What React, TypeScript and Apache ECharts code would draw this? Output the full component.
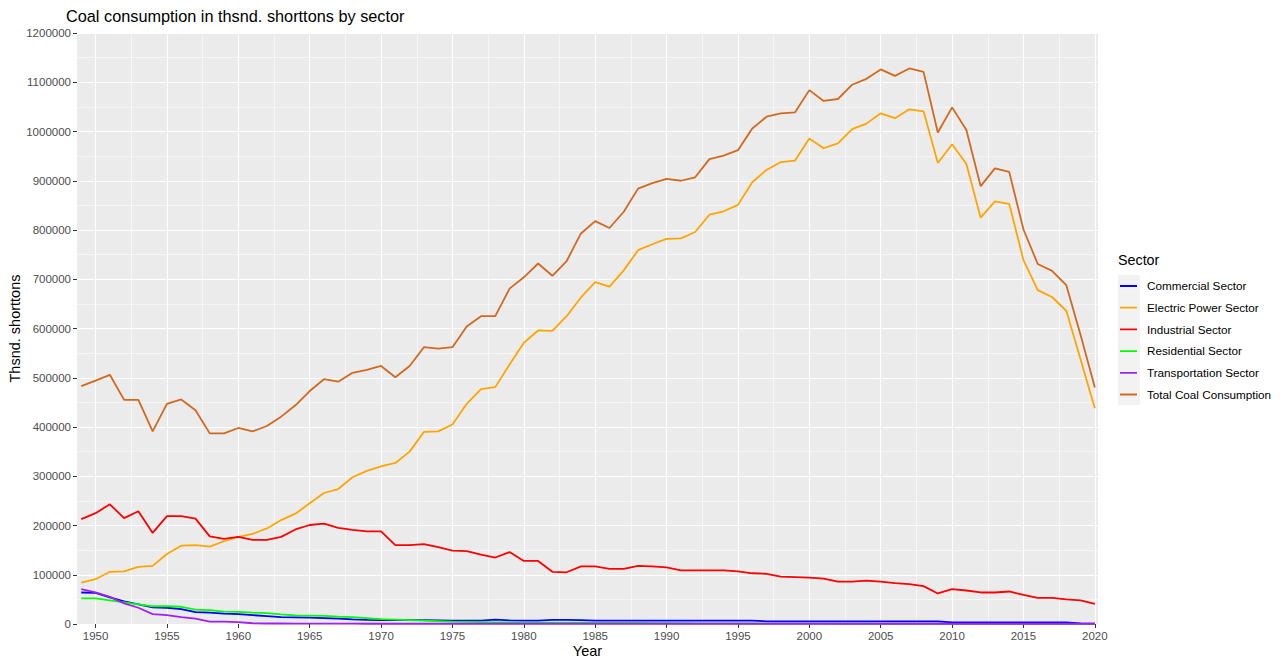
import React, { useEffect, useRef } from "react";
import * as echarts from "echarts";

const years = [
  1949, 1950, 1951, 1952, 1953, 1954, 1955, 1956, 1957, 1958, 1959,
  1960, 1961, 1962, 1963, 1964, 1965, 1966, 1967, 1968, 1969,
  1970, 1971, 1972, 1973, 1974, 1975, 1976, 1977, 1978, 1979,
  1980, 1981, 1982, 1983, 1984, 1985, 1986, 1987, 1988, 1989,
  1990, 1991, 1992, 1993, 1994, 1995, 1996, 1997, 1998, 1999,
  2000, 2001, 2002, 2003, 2004, 2005, 2006, 2007, 2008, 2009,
  2010, 2011, 2012, 2013, 2014, 2015, 2016, 2017, 2018, 2019,
  2020,
];

const commercial = [
  64000, 63000, 54000, 46000, 40000, 34000, 33000, 30000, 24000, 23000, 21000,
  20000, 18000, 16000, 14000, 13500, 13000, 12000, 11000, 9500, 8500,
  8000, 8000, 8000, 8000, 7500, 7000, 7000, 7000, 9000, 7500,
  7000, 7000, 8500, 8500, 8000, 7000, 7000, 7000, 7000, 7000,
  7000, 7000, 7000, 7000, 7000, 7000, 7000, 5500, 5500, 5500,
  5500, 5500, 5500, 5500, 5500, 5500, 5500, 5500, 5500, 5500,
  3500, 3500, 3000, 3000, 3000, 3000, 3000, 3000, 3000, 1000,
  800,
];

const electric = [
  84000, 91000, 106000, 107000, 116000, 118000, 142000, 159000, 160000, 157000, 168000,
  177000, 183000, 194000, 211000, 224000, 245000, 266000, 274000, 298000, 311000,
  320000, 327000, 350000, 390000, 391000, 405000, 447000, 477000, 481000, 527000,
  571000, 596000, 595000, 625000, 663000, 694000, 685000, 718000, 759000, 771000,
  782000, 783000, 796000, 831000, 838000, 851000, 897000, 922000, 938000, 941000,
  986000, 966000, 976000, 1005000, 1016000, 1037000, 1027000, 1045000, 1041000, 936000,
  974000, 934000, 825000, 858000, 853000, 739000, 678000, 664000, 636000, 537000,
  438000,
];

const industrial = [
  213000, 225000, 243000, 215000, 229000, 185000, 219000, 219000, 214000, 178000, 173000,
  177000, 171000, 171000, 177000, 192000, 201000, 204000, 195000, 191000, 188000,
  188000, 160000, 160000, 162000, 156000, 149000, 148000, 141000, 135000, 146000,
  128000, 128000, 106000, 105000, 117000, 117000, 112000, 112000, 118000, 117000,
  115000, 109000, 109000, 109000, 109000, 107000, 103000, 102000, 96000, 95000,
  94000, 92000, 86000, 86000, 88000, 86000, 83000, 81000, 77000, 62000,
  71000, 68000, 64000, 64000, 66000, 59000, 53000, 53000, 50000, 48000,
  41000,
];

const residential = [
  52000, 52000, 48000, 44000, 40000, 36000, 36000, 35000, 29000, 28000, 25000,
  24500, 23000, 22000, 19500, 17500, 17000, 16500, 15000, 14000, 12000,
  10000, 9000, 8000, 7000, 6000, 5000, 4500, 4000, 3500, 3000,
  2500, 2500, 2500, 2500, 2500, 2000, 2000, 2000, 2000, 1800,
  1500, 1500, 1400, 1300, 1200, 1000, 1000, 900, 700, 700,
  600, 600, 500, 500, 500, 400, 400, 400, 300, 200,
  200, 200, 200, 200, 200, 200, 200, 200, 200, 200,
  200,
];

const transportation = [
  71000, 64000, 55000, 42000, 33000, 20000, 18000, 14000, 11000, 5000, 5000,
  4000, 1500, 1000, 1000, 900, 800, 800, 700, 600, 500,
  500, 500, 500, 500, 500, 500, 500, 500, 500, 500,
  500, 500, 500, 500, 500, 500, 500, 500, 500, 500,
  500, 500, 500, 500, 500, 500, 500, 500, 500, 500,
  500, 500, 500, 500, 500, 500, 500, 500, 500, 500,
  500, 500, 500, 500, 500, 500, 500, 500, 500, 500,
  500,
];

const total = [
  483000, 494000, 506000, 455000, 455000, 391000, 447000, 456000, 434000, 387000, 387000,
  398000, 391000, 402000, 421000, 444000, 473000, 497000, 492000, 510000, 516000,
  524000, 501000, 524000, 562000, 559000, 562000, 604000, 625000, 625000, 681000,
  704000, 732000, 707000, 737000, 793000, 818000, 804000, 837000, 884000, 895000,
  904000, 900000, 907000, 944000, 951000, 962000, 1006000, 1030000, 1037000, 1039000,
  1084000, 1062000, 1066000, 1095000, 1107000, 1126000, 1113000, 1128000, 1121000, 998000,
  1049000, 1003000, 889000, 925000, 918000, 801000, 731000, 717000, 688000, 587000,
  480000,
];

const sectorNames = [
  "Commercial Sector",
  "Electric Power Sector",
  "Industrial Sector",
  "Residential Sector",
  "Transportation Sector",
  "Total Coal Consumption",
];
const sectorColors = ["#0000FF", "#FFA500", "#FF0000", "#00FF00", "#A020F0", "#D2691E"];
const sectorValues = [commercial, electric, industrial, residential, transportation, total];

const xMajorTicks = [1950, 1955, 1960, 1965, 1970, 1975, 1980, 1985, 1990, 1995, 2000, 2005, 2010, 2015, 2020];
const xMinorTicks = xMajorTicks.slice(0, -1).map((v, i) => (v + xMajorTicks[i + 1]) / 2);

const FONT = "'Liberation Sans', Arial, sans-serif";
const LEGEND_ICON =
  "path://M0,0h0.01v0.01h-0.01z M0,10.1h17v1.8h-17z M21.99,21.69h0.01v0.01h-0.01z";

export default function App() {
  const ref = useRef<HTMLDivElement>(null);

  useEffect(() => {
    if (!ref.current) return;
    const chart = echarts.init(ref.current, undefined, { renderer: "svg" });
    const series = sectorNames.map((name, i) => ({
      name,
      type: "line",
      xAxisIndex: 0,
      yAxisIndex: 0,
      showSymbol: false,
      symbol: "none",
      data: years.map((y, j) => [y, sectorValues[i][j]]),
      lineStyle: { color: sectorColors[i], width: 1.8 },
      itemStyle: { color: sectorColors[i] },
      z: 3 + i,
    }));

    chart.setOption({
      animation: false,
      backgroundColor: "#FFFFFF",
      textStyle: { fontFamily: FONT },
      title: [
        {
          text: "Coal consumption in thsnd. shorttons by sector",
          left: 66,
          top: 8,
          padding: 0,
          textStyle: { fontSize: 16.3, fontWeight: "normal", color: "#000000", fontFamily: FONT },
        },
        {
          text: "Sector",
          left: 1118,
          top: 253,
          padding: 0,
          textStyle: { fontSize: 14.3, fontWeight: "normal", color: "#000000", fontFamily: FONT },
        },
      ],
      graphic: [
        {
          type: "rect",
          left: 1118,
          top: 275,
          shape: { width: 22, height: 130 },
          style: { fill: "#F2F2F2" },
          z: 0,
        },
      ],
      legend: {
        orient: "vertical",
        left: 1120,
        top: 275,
        padding: 0,
        itemWidth: 22,
        itemHeight: 21.7,
        itemGap: 0,
        icon: LEGEND_ICON,
        data: sectorNames,
        textStyle: { fontSize: 11.7, color: "#000000", fontFamily: FONT },
        selectedMode: false,
      },
      grid: {
        left: 77,
        right: 186,
        top: 33,
        bottom: 35,
        show: true,
        backgroundColor: "#EBEBEB",
        borderWidth: 0,
        containLabel: false,
        outerBoundsMode: "none",
      },
      xAxis: [
        {
          type: "value",
          min: 1948.7,
          max: 2020.22,
          position: "bottom",
          name: "Year",
          nameLocation: "middle",
          nameGap: 19,
          nameMoveOverlap: false,
          nameTextStyle: { fontSize: 14.5, color: "#000000", fontFamily: FONT },
          axisLine: { show: false },
          axisTick: {
            show: true,
            length: 4,
            customValues: xMajorTicks,
            lineStyle: { color: "#333333", width: 1 },
          },
          axisLabel: {
            show: true,
            customValues: xMajorTicks,
            margin: 6,
            fontSize: 11.5,
            color: "#4D4D4D",
            fontFamily: FONT,
            formatter: (v: number) => String(v),
          },
          splitLine: { show: true, lineStyle: { color: "#FFFFFF", width: 1.1 } },
        },
        {
          type: "value",
          min: 1948.7,
          max: 2020.22,
          position: "bottom",
          axisLine: { show: false },
          axisTick: { show: false, customValues: xMinorTicks },
          axisLabel: { show: false, customValues: xMinorTicks },
          splitLine: { show: true, lineStyle: { color: "#FFFFFF", width: 0.55 } },
        },
      ],
      yAxis: {
        type: "value",
        min: 0,
        max: 1200000,
        interval: 100000,
        name: "Thsnd. shorttons",
        nameLocation: "middle",
        nameGap: 55,
        nameMoveOverlap: false,
        nameRotate: 90,
        nameTextStyle: { fontSize: 14.5, color: "#000000", fontFamily: FONT },
        axisLine: { show: false },
        axisTick: { show: true, length: 4, lineStyle: { color: "#333333", width: 1 } },
        axisLabel: {
          margin: 6,
          fontSize: 11.5,
          color: "#4D4D4D",
          fontFamily: FONT,
          formatter: (v: number) => String(v),
        },
        splitLine: { show: true, lineStyle: { color: "#FFFFFF", width: 1.1 } },
        minorTick: { show: false, splitNumber: 2 },
        minorSplitLine: { show: true, lineStyle: { color: "#FFFFFF", width: 0.55 } },
      },
      series,
    });

    return () => chart.dispose();
  }, []);

  return (
    <div
      ref={ref}
      style={{ position: "fixed", left: 0, top: 0, width: 1284, height: 659 }}
    />
  );
}
